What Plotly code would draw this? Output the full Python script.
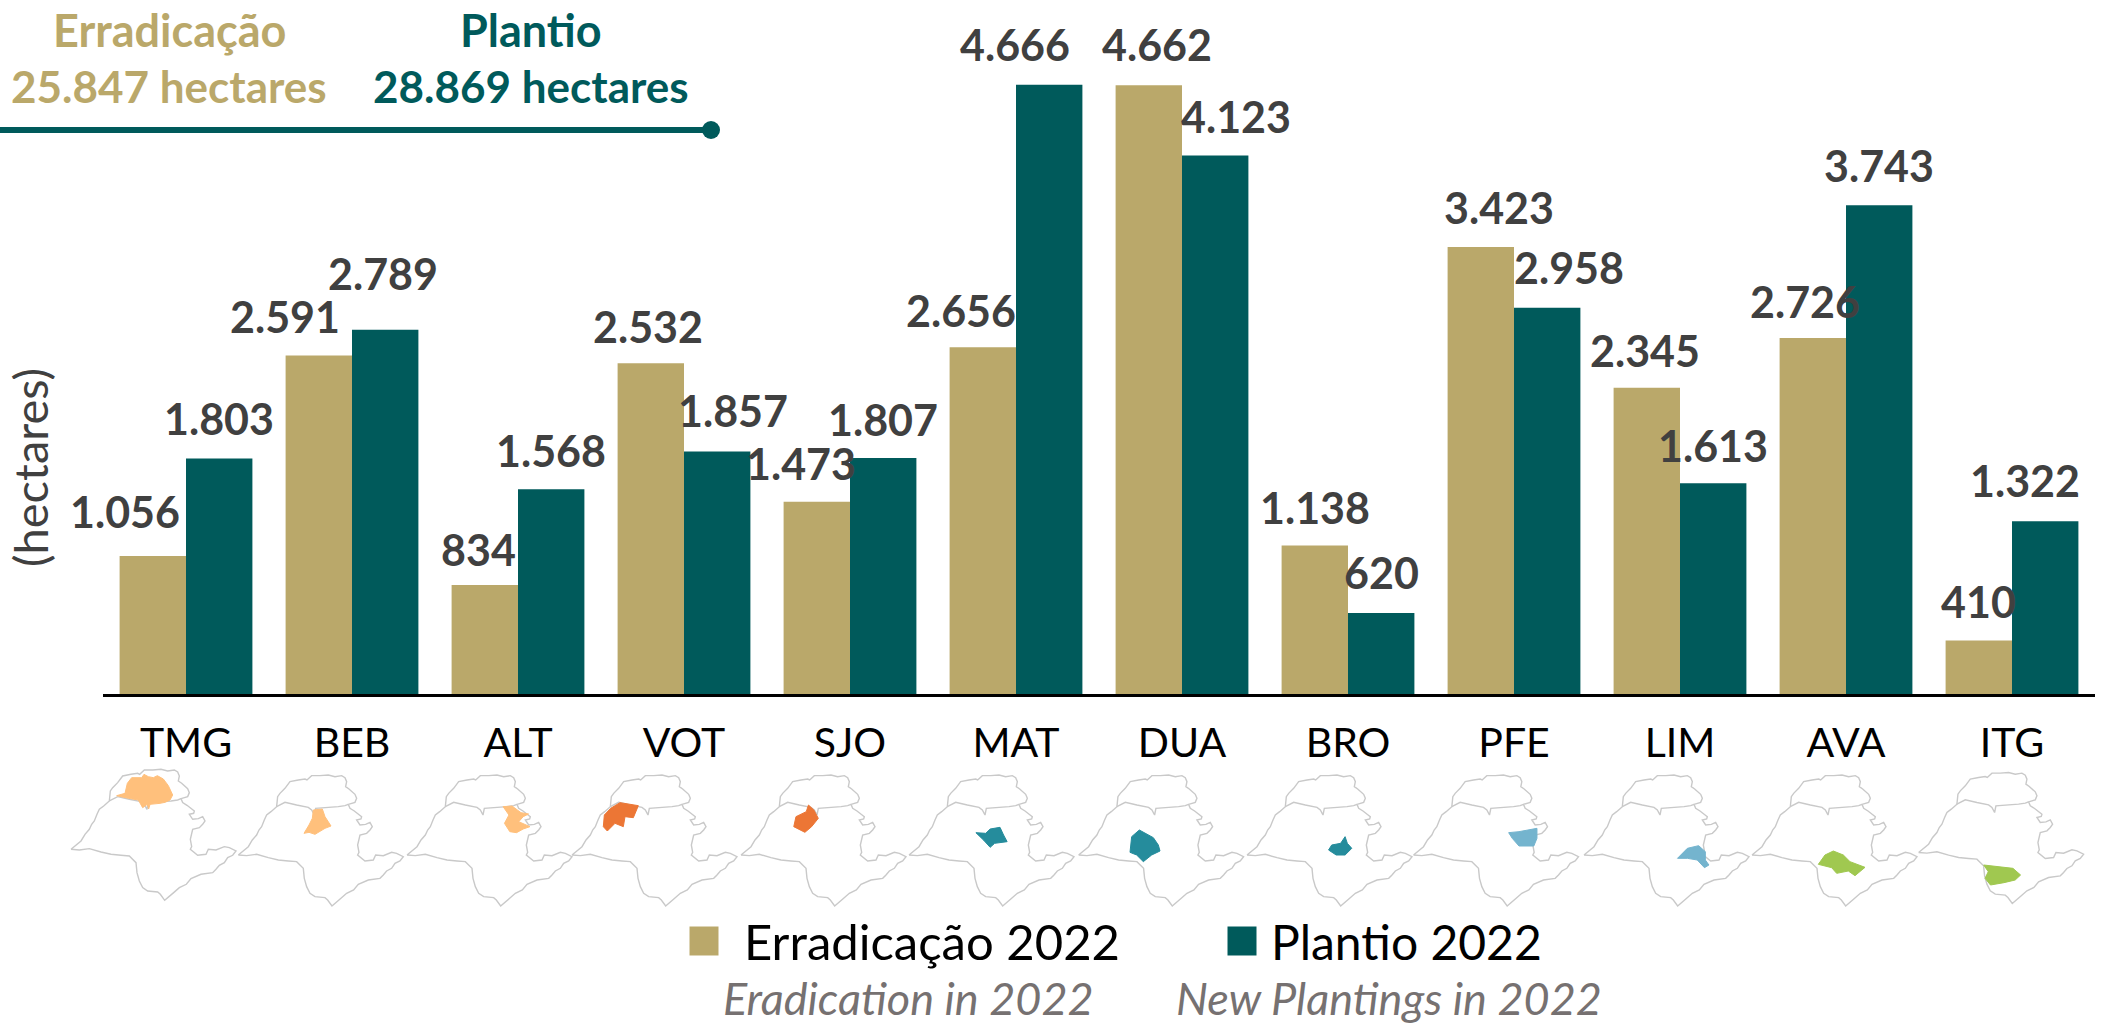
import plotly.graph_objects as go

categories = ["TMG", "BEB", "ALT", "VOT", "SJO", "MAT", "DUA", "BRO", "PFE", "LIM", "AVA", "ITG"]
erradicacao = [1056, 2591, 834, 2532, 1473, 2656, 4662, 1138, 3423, 2345, 2726, 410]
plantio = [1803, 2789, 1568, 1857, 1807, 4666, 4123, 620, 2958, 1613, 3743, 1322]

GOLD = "#BAA86A"
TEAL = "#005A5B"
GREY = "#404040"
FONT = "Lato"

# label offsets from the top-centre of each bar, px (hand placed in the original)
err_dx = [-28, -34, -6, -3, -16, -22, 8, 0, 18, -2, -8, 0]
err_dy = [45, 39, 36, 37, 38, 37, 41, 38, 39, 37, 36, 39]
pla_dx = [0, -2, 0, 16, 0, -34, 21, 0, 22, 0, 0, -20]
pla_dy = [40, 56, 39, 41, 39, 40, 39, 41, 40, 38, 40, 41]

# Sao Paulo outline, in 1/3 px units relative to the BEB thumbnail crop
outline_x = [10, 28, 40, 52, 65, 72, 80, 88, 95, 108, 125, 128, 135, 150, 158, 165, 190, 210, 216, 230, 255, 280, 300, 320, 330, 335, 332, 342, 360, 365, 360, 340, 345, 358, 380, 378, 365, 375, 392, 405, 412, 405, 395, 375, 368, 372, 368, 378, 390, 415, 422, 445, 470, 485, 505, 495, 480, 470, 455, 445, 435, 400, 370, 356, 335, 318, 291, 278, 270, 240, 225, 215, 208, 205, 185, 160, 130, 100, 65, 35, 10]
outline_y = [270, 255, 245, 225, 210, 195, 185, 165, 150, 140, 125, 95, 85, 70, 58, 50, 45, 42, 45, 32, 32, 30, 35, 32, 38, 50, 65, 72, 88, 100, 112, 118, 130, 138, 155, 162, 165, 180, 178, 172, 185, 195, 205, 210, 240, 262, 270, 278, 288, 285, 270, 272, 262, 265, 275, 288, 295, 310, 318, 330, 340, 345, 358, 375, 385, 400, 423, 405, 398, 395, 385, 365, 340, 310, 290, 288, 285, 278, 268, 272, 270]
divide_x = [125, 150, 185, 220, 230, 238, 242, 280, 310, 330, 340]
divide_y = [125, 112, 120, 127, 135, 150, 130, 128, 125, 122, 118]

# per thumbnail: left tip of the map, px
tip_x = [71, 238.3, 407, 572, 741, 909, 1078.6, 1247, 1413.5, 1584, 1752, 1918.6]
tip_y = [849.3, 855, 855, 855, 855, 855, 855, 855, 855, 855, 855, 852.5]
BASE_TIP = (10, 270)

region_colors = ["#FFC07C", "#FFC07C", "#FFC07C", "#EC7635", "#EC7635", "#258C9C", "#258C9C", "#258C9C", "#74B4CE", "#74B4CE", "#A0C850", "#A0C850"]
# regions in full-image px
def conv(pts, ox, oy, sx, sy):
    return [(ox + a / sx, oy + b / sy) for a, b in pts]

regions = [
    conv([(140, 92), (165, 85), (172, 55), (185, 38), (215, 38), (222, 28), (235, 35), (250, 38), (262, 32), (280, 42), (295, 62), (308, 90), (300, 105), (285, 112), (270, 115), (240, 118), (236, 132), (232, 118), (218, 128), (205, 105), (175, 100)], 70, 765, 3, 3),
    conv([(235, 135), (262, 132), (270, 155), (288, 183), (270, 190), (255, 200), (240, 208), (222, 202), (207, 205), (222, 180), (232, 160)], 235, 765, 3, 3),
    conv([(1015, 380), (1035, 378), (1055, 398), (1072, 402), (1060, 410), (1050, 425), (1075, 440), (1060, 447), (1045, 458), (1030, 455), (1018, 430), (1028, 405)], 50, 680, 2.24, 3),
    conv([(122, 130), (150, 113), (205, 122), (195, 145), (190, 158), (165, 155), (160, 185), (135, 175), (112, 198), (100, 185), (103, 150)], 570, 765, 3, 3),
    conv([(243, 375), (255, 390), (265, 415), (250, 440), (235, 457), (210, 440), (215, 410), (238, 395)], 700, 680, 2.24, 3),
    conv([(618, 458), (640, 460), (650, 447), (672, 442), (680, 465), (688, 485), (660, 490), (650, 502), (635, 480)], 700, 680, 2.24, 3),
    conv([(208, 195), (225, 205), (250, 218), (265, 240), (270, 258), (245, 270), (220, 290), (200, 270), (180, 262), (185, 215)], 1070, 765, 3, 3),
    conv([(1445, 470), (1450, 490), (1460, 505), (1445, 525), (1425, 525), (1408, 510), (1415, 495), (1435, 490)], 700, 680, 2.24, 3),
    conv([(242, 458), (265, 455), (285, 450), (305, 445), (305, 475), (298, 498), (265, 498), (250, 475)], 1400, 680, 2.227, 3),
    conv([(618, 535), (640, 505), (665, 497), (680, 515), (680, 540), (688, 555), (678, 563), (662, 540), (640, 535)], 1400, 680, 2.227, 3),
    conv([(265, 298), (285, 270), (310, 258), (340, 270), (360, 290), (405, 307), (375, 332), (355, 318), (320, 325), (305, 308)], 1730, 765, 3, 3),
    conv([(1300, 555), (1340, 562), (1365, 565), (1382, 585), (1370, 600), (1345, 608), (1315, 615), (1303, 595), (1310, 575)], 1400, 680, 2.227, 3),
]

W, H = 2104, 1026
AX_L, AX_R, AX_B = 103, 2095, 694
Y_TOP = 5314

fig = go.Figure()
fig.add_bar(x=categories, y=erradicacao, name="Erradicação 2022", marker=dict(color=GOLD, line_width=0))
fig.add_bar(x=categories, y=plantio, name="Plantio 2022", marker=dict(color=TEAL, line_width=0))


def over(**kw):
    fig.add_trace(go.Scatter(xaxis="x2", yaxis="y2", showlegend=False, hoverinfo="skip", **kw))


for i, cat in enumerate(categories):
    ox = tip_x[i]
    oy = tip_y[i]
    over(x=[ox + (a - BASE_TIP[0]) / 3 for a in outline_x], y=[oy + (b - BASE_TIP[1]) / 3 for b in outline_y],
         mode="lines", line=dict(color="#C9C9C9", width=1.4))
    over(x=[ox + (a - BASE_TIP[0]) / 3 for a in divide_x], y=[oy + (b - BASE_TIP[1]) / 3 for b in divide_y],
         mode="lines", line=dict(color="#C9C9C9", width=1.4))
    rx = [p[0] for p in regions[i]] + [regions[i][0][0]]
    ry = [p[1] for p in regions[i]] + [regions[i][0][1]]
    over(x=rx, y=ry, mode="lines", fill="toself", fillcolor=region_colors[i], line=dict(color=region_colors[i], width=1))

# header rule with end dot
over(x=[0, 711], y=[130, 130], mode="lines", line=dict(color=TEAL, width=6))
over(x=[711], y=[130], mode="markers", marker=dict(color=TEAL, size=18))
# legend swatches
over(x=[704, 1242], y=[941, 941], mode="markers", marker=dict(symbol="square", size=29, color=[GOLD, TEAL]))

ann = []


def fmt(v):
    return f"{v:,}".replace(",", ".")


for i in range(len(categories)):
    ann.append(dict(x=i - 0.2, y=erradicacao[i], xref="x", yref="y", text=fmt(erradicacao[i]), showarrow=False,
                    xshift=err_dx[i], yshift=err_dy[i], yanchor="middle",
                    font=dict(family=FONT, size=43, color=GREY, weight="bold")))
    ann.append(dict(x=i + 0.2, y=plantio[i], xref="x", yref="y", text=fmt(plantio[i]), showarrow=False,
                    xshift=pla_dx[i], yshift=pla_dy[i], yanchor="middle",
                    font=dict(family=FONT, size=43, color=GREY, weight="bold")))


def txt(x, y, text, size, color, weight="normal", style="normal", angle=0, xanchor="center"):
    ann.append(dict(x=x, y=y, xref="x2", yref="y2", text=text, showarrow=False, xanchor=xanchor, yanchor="middle",
                    textangle=angle, font=dict(family=FONT, size=size, color=color, weight=weight, style=style)))


txt(169, 30, "Erradicação", 45, GOLD, weight="bold")
txt(169, 86, "25.847 hectares", 44, GOLD, weight="bold")
txt(531, 30, "Plantio", 45, TEAL, weight="bold")
txt(531, 86, "28.869 hectares", 44, TEAL, weight="bold")
txt(30, 468, "(hectares)", 47, GREY, angle=-90)
txt(742, 941, "Erradicação 2022", 49, "#000000", xanchor="left")
txt(1269, 941, "Plantio 2022", 48, "#000000", xanchor="left")
txt(908, 998, "Eradication in 2022", 45, "#767171", style="italic")
txt(1389, 998, "New Plantings in 2022", 45, "#767171", style="italic")

fig.update_layout(
    width=W, height=H, autosize=False, margin=dict(l=0, r=0, t=0, b=0), paper_bgcolor="white", plot_bgcolor="rgba(0,0,0,0)",
    barmode="group", bargap=0.2, bargroupgap=0, showlegend=False, annotations=ann,
    font=dict(family=FONT),
    xaxis=dict(domain=[AX_L / W, AX_R / W], anchor="y", type="category", range=[-0.5, 11.5], showgrid=False,
               showline=True, linecolor="#000000", linewidth=3, ticks="outside", ticklen=11, tickcolor="rgba(0,0,0,0)",
               tickfont=dict(family=FONT, size=41, color="#000000"), tickangle=0),
    yaxis=dict(domain=[(H - AX_B) / H, 1], anchor="x", range=[0, Y_TOP], visible=False),
    xaxis2=dict(domain=[0, 1], anchor="y2", range=[0, W], visible=False),
    yaxis2=dict(domain=[0, 1], anchor="x2", range=[H, 0], visible=False),
)

fig.write_html("out.html", config={"displayModeBar": False},
               post_script="document.body.style.margin='0';document.documentElement.style.overflow='hidden';")
